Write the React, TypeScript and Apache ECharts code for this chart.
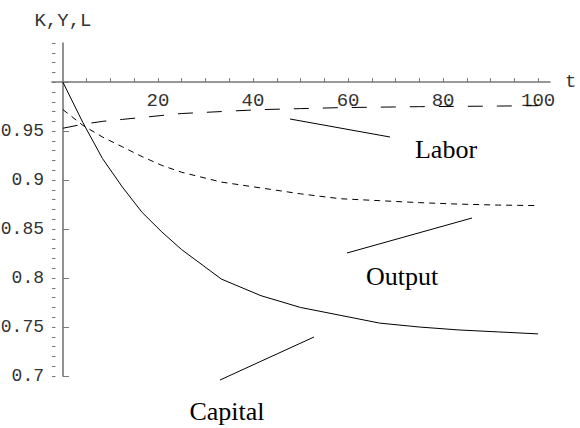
import React, { useEffect, useRef } from 'react';
import * as echarts from 'echarts';

// time (t) samples
const tValues = [0, 4.17, 8.33, 12.5, 16.67, 20.83, 25, 33.33, 41.67, 50, 58.33, 66.67, 75, 83.33, 91.67, 100];
// Capital (solid)
const capital = [1.0, 0.959, 0.922, 0.893, 0.867, 0.847, 0.829, 0.799, 0.782, 0.770, 0.762, 0.754, 0.750, 0.747, 0.745, 0.743];
// Output (short dashes)
const output = [0.972, 0.956, 0.944, 0.934, 0.924, 0.915, 0.908, 0.898, 0.892, 0.886, 0.881, 0.879, 0.877, 0.8755, 0.8745, 0.874];
// Labor (long dashes)
const labor = [0.953, 0.957, 0.960, 0.962, 0.964, 0.966, 0.968, 0.970, 0.972, 0.973, 0.974, 0.9745, 0.975, 0.9753, 0.9756, 0.976];

// axis ticks and labels
const xTicks = [5, 10, 15, 20, 25, 30, 35, 40, 45, 50, 55, 60, 65, 70, 75, 80, 85, 90, 95, 100];
const xLabels = [20, 40, 60, 80, 100];
const yLabels = [0.7, 0.75, 0.8, 0.85, 0.9, 0.95];
const yMajorTicks = [0.7, 0.75, 0.8, 0.85, 0.9, 0.95, 1.0];
const yMinorTicks = [0.7, 0.71, 0.72, 0.73, 0.74, 0.75, 0.76, 0.77, 0.78, 0.79, 0.8, 0.81, 0.82, 0.83, 0.84, 0.85, 0.86, 0.87, 0.88, 0.89, 0.9, 0.91, 0.92, 0.93, 0.94, 0.95, 0.96, 0.97, 0.98, 0.99, 1.0, 1.01, 1.02, 1.03, 1.04];

const MONO = 'Liberation Mono';
const SERIF = 'Liberation Serif';

export default function App() {
  const ref = useRef<HTMLDivElement>(null);
  useEffect(() => {
    if (!ref.current) return;
    const chart = echarts.init(ref.current, null, { renderer: 'svg' });
    const gridLeft = 52, gridTop = 43, gridW = 498, gridH = 333;
    const yMin = 0.7, yMax = 1.04, xMin = -2.3, xMax = 102.5;
    const xAxisOffset = -((1.0 - yMin) / (yMax - yMin)) * gridH;
    const axisColor = '#777';
    const textColor = '#333';
    const mk = (arr: number[]) => tValues.map((t, i) => [t, arr[i]]);

    const annText = (text: string, x: number, y: number) => ({
      type: 'text',
      x, y,
      style: {
        text,
        font: `26px "${SERIF}"`,
        fill: '#000',
        align: 'center',
        verticalAlign: 'middle',
        textAlign: 'center',
        textVerticalAlign: 'middle',
      },
    });
    const annLine = (x1: number, y1: number, x2: number, y2: number) => ({
      type: 'line',
      shape: { x1, y1, x2, y2 },
      style: { stroke: '#000', lineWidth: 1 },
    });

    chart.setOption({
      animation: false,
      backgroundColor: '#fff',
      grid: { left: gridLeft, top: gridTop, width: gridW, height: gridH, containLabel: false, outerBoundsMode: 'none' },
      xAxis: {
        type: 'value',
        min: xMin,
        max: xMax,
        position: 'bottom',
        offset: xAxisOffset,
        splitLine: { show: false },
        axisLine: { show: true, onZero: false, lineStyle: { color: axisColor, width: 1.6 } },
        axisTick: { show: true, inside: true, length: 4, customValues: xTicks, lineStyle: { color: axisColor, width: 1 } },
        axisLabel: {
          show: true,
          customValues: xLabels,
          margin: 9,
          fontFamily: MONO,
          fontSize: 19,
          color: textColor,
          formatter: (v: number) => String(v),
        },
        name: 't',
        nameLocation: 'end',
        nameGap: 15,
        nameTextStyle: { fontFamily: MONO, fontSize: 19, color: textColor, verticalAlign: 'middle' },
      },
      yAxis: [
        {
          type: 'value',
          min: yMin,
          max: yMax,
          position: 'left',
          splitLine: { show: false },
          axisLine: { show: true, onZero: true, lineStyle: { color: axisColor, width: 1.6 } },
          axisTick: { show: true, inside: true, length: 6, customValues: yMajorTicks, lineStyle: { color: axisColor, width: 1 } },
          axisLabel: {
            show: true,
            customValues: yLabels,
            margin: 8,
            fontFamily: MONO,
            fontSize: 18,
            color: textColor,
            formatter: (v: number) => String(Number(v.toFixed(2))),
          },
          name: 'K,Y,L',
          nameLocation: 'end',
          nameGap: 13,
          nameTextStyle: { fontFamily: MONO, fontSize: 19, color: textColor },
        },
        {
          type: 'value',
          min: yMin,
          max: yMax,
          position: 'left',
          splitLine: { show: false },
          axisLine: { show: false, onZero: true },
          axisTick: { show: true, inside: true, length: 3.5, customValues: yMinorTicks, lineStyle: { color: axisColor, width: 1 } },
          axisLabel: { show: false },
        },
      ],
      series: [
        {
          name: 'Capital',
          type: 'line',
          data: mk(capital),
          showSymbol: false,
          symbol: 'none',
          lineStyle: { color: '#000', width: 1, type: 'solid' },
          silent: true,
        },
        {
          name: 'Output',
          type: 'line',
          data: mk(output),
          showSymbol: false,
          symbol: 'none',
          lineStyle: { color: '#000', width: 1, type: [6, 5] },
          silent: true,
        },
        {
          name: 'Labor',
          type: 'line',
          data: mk(labor),
          showSymbol: false,
          symbol: 'none',
          lineStyle: { color: '#000', width: 1, type: [15, 14] },
          silent: true,
        },
      ],
      graphic: [
        annLine(290, 119, 390, 137),
        annText('Labor', 446, 149),
        annLine(347, 253, 472, 218),
        annText('Output', 402, 276),
        annLine(220, 380, 314, 337),
        annText('Capital', 227, 411),
      ],
    });
    return () => chart.dispose();
  }, []);
  return (
    <div
      ref={ref}
      style={{ position: 'fixed', left: 0, top: 0, width: 580, height: 428, background: '#fff' }}
    />
  );
}
